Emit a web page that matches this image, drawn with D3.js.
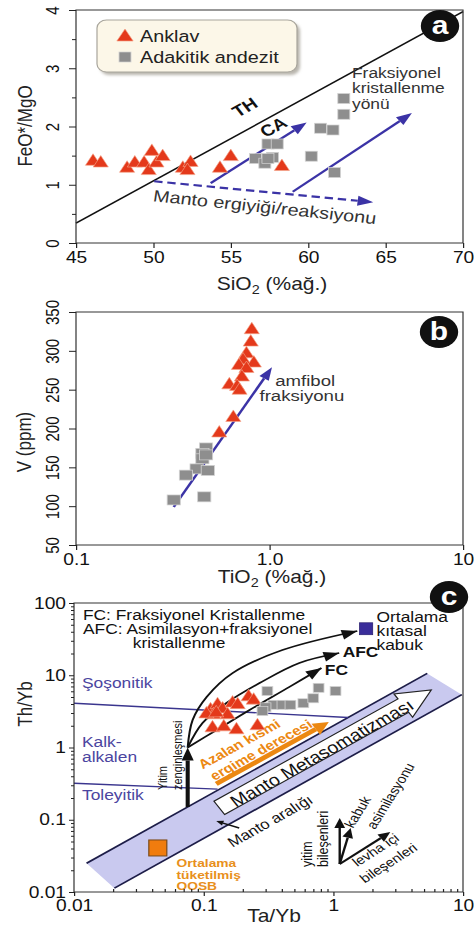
<!DOCTYPE html>
<html>
<head>
<meta charset="utf-8">
<script src="https://cdn.jsdelivr.net/npm/d3@7"></script>
<style>
  html, body { margin: 0; padding: 0; background: #fff; }
  svg { display: block; font-family: "Liberation Sans", Arial, Helvetica, sans-serif; }
</style>
</head>
<body>
<svg id="fig" width="474" height="927"></svg>
<script>
// ---------- Panel a: FeO*/MgO vs SiO2 ----------
const anklavSiO2   = [46.1, 46.6, 48.3, 48.8, 49.4, 49.9, 49.7, 50.2, 50.6, 51.9, 52.4, 52.2, 54.3, 55.0, 58.3];
const anklavFeOMgO = [1.40, 1.37, 1.28, 1.37, 1.37, 1.57, 1.24, 1.37, 1.48, 1.28, 1.38, 1.24, 1.28, 1.48, 1.31];
const adakitSiO2   = [56.6, 57.2, 57.7, 57.4, 58.0, 60.2, 60.8, 61.6, 61.7, 62.3, 62.3, 57.4];
const adakitFeOMgO = [1.45, 1.37, 1.47, 1.70, 1.70, 1.49, 1.97, 1.94, 1.21, 2.21, 2.48, 1.45];
const thCaSiO2     = [45, 70];
const thCaFeOMgO   = [0.34, 3.97];
const meltArrowA   = [[50.05, 1.06], [64.2, 0.70]];
const fcArrowsA    = [[[53.7, 1.03], [59.9, 2.07]], [[59.0, 0.88], [66.7, 2.23]]];
const aTicksX = [45, 50, 55, 60, 65, 70];
const aTicksY = [0, 1, 2, 3, 4];
const aMinorY = [0.5, 1.5, 2.5, 3.5];

// ---------- Panel b: V vs TiO2 ----------
const anklavTiO2 = [0.81, 0.80, 0.76, 0.73, 0.83, 0.695, 0.76, 0.72, 0.62, 0.68, 0.70, 0.65, 0.55];
const anklavV    = [327, 311, 296, 288, 284, 281, 277, 266, 256, 254, 249, 214, 194];
const adakitTiO2 = [0.47, 0.45, 0.45, 0.47, 0.42, 0.48, 0.37, 0.46, 0.32];
const adakitV    = [175, 168, 161, 166, 148, 146, 140, 112, 108];
const amphArrow  = [[0.32, 99], [1.03, 279]];
const bTicksX = [0.1, 1, 10];
const bTickLabelsX = ["0.1", "1.0", "10"];
const bTicksY = [50, 100, 150, 200, 250, 300, 350];

// ---------- Panel c: Th/Yb vs Ta/Yb ----------
const anklavTaYb = [0.113, 0.128, 0.140, 0.167, 0.183, 0.222, 0.243, 0.117, 0.143, 0.179, 0.26, 0.119, 0.153, 0.105, 0.125];
const anklavThYb = [3.3, 3.9, 3.4, 4.1, 3.9, 5.0, 4.5, 1.86, 1.92, 1.75, 1.99, 2.82, 2.82, 2.9, 3.0];
const adakitTaYb = [0.31, 0.345, 0.30, 0.405, 0.467, 0.587, 0.70, 0.77, 1.04, 0.284];
const adakitThYb = [6.05, 3.9, 3.6, 3.9, 3.9, 4.1, 4.8, 6.7, 6.05, 3.2];
const crustAvg   = [1.79, 44];
const nmorbAvg   = [0.0443, 0.0407];
const mantleUpper = [[0.0125, 0.025], [5.3, 10.6]];
const mantleLower = [[0.0205, 0.0113], [9.8, 5.39]];
const shoshoniteLine = [[0.01, 4.1], [1.3, 2.6]];
const tholeiiteLine  = [[0.01, 0.32], [0.128, 0.265]];
const subductionArrow = [[0.0753, 0.15], [0.0753, 1.0]];
const crustCurve = [[0.0753, 1.0], [0.0822, 2.4], [0.1054, 5.0], [0.167, 10.7], [0.405, 22.3], [1.53, 41]];
const afcCurve   = [[0.0753, 1.0], [0.098, 2.18], [0.150, 4.13], [0.27, 7.8], [0.547, 14.8], [1.11, 20.3]];
const fcCurve    = [[0.0753, 1.0], [0.126, 1.75], [0.226, 3.3], [0.459, 6.9], [0.81, 12.6]];
const meltingArrow = [[0.125, 0.313], [0.923, 2.25]];
const metasomArrow = [[0.132, 0.146], [5.69, 6.25]];
const arrayPointer = [[0.188, 0.0769], [0.125, 0.096]];
const vectorOrigin = [1.12, 0.0244];
const vectorTips   = [[1.12, 0.1057], [1.36, 0.0769], [2.75, 0.0676]];
const cTicksX = [0.01, 0.1, 1, 10];
const cTickLabelsX = ["0.01", "0.1", "1", "10"];
const cTicksY = [0.01, 0.1, 1, 10, 100];
const cTickLabelsY = ["0.01", "0.1", "1", "10", "100"];

// ---------- drawing setup ----------
// The figure is drawn in a horizontally stretched frame.
const S = 1.2;
const u = v => v / S;
const svg = d3.select("#fig");
const root = svg.append("g").attr("transform", `scale(${S},1)`);

const RED = "#e4391b", RED_EDGE = "#f4a488";
const GREY = "#8e8e8e", GREY_EDGE = "#d2d2d2";
const NAVY = "#3b33a6";
const ORANGE = "#ec8812";

const deg = r => r * 180 / Math.PI;
// convert an on-screen angle to the stretched drawing frame
const frameAngle = a => deg(Math.atan2(Math.sin(a * Math.PI / 180), Math.cos(a * Math.PI / 180) / S));

function triPath(h = 11.5, b = 6.3) {
  return `M0,${-h * 2 / 3}L${b},${h / 3}L${-b},${h / 3}Z`;
}
function drawTriangles(g, xs, ys, xScale, yScale) {
  g.append("g").selectAll("path").data(xs.map((x, i) => [x, ys[i]])).join("path")
    .attr("d", triPath())
    .attr("transform", d => `translate(${xScale(d[0])},${yScale(d[1])})`)
    .attr("fill", RED).attr("stroke", RED_EDGE).attr("stroke-width", 0.6);
}
function drawSquares(g, xs, ys, xScale, yScale, w, h) {
  g.append("g").selectAll("rect").data(xs.map((x, i) => [x, ys[i]])).join("rect")
    .attr("x", d => xScale(d[0]) - w / 2).attr("y", d => yScale(d[1]) - h / 2)
    .attr("width", w).attr("height", h)
    .attr("fill", GREY).attr("stroke", GREY_EDGE).attr("stroke-width", 0.7);
}
function headBase(x1, y1, x2, y2, len) {
  const a = Math.atan2(y2 - y1, x2 - x1);
  return [x2 - len * Math.cos(a), y2 - len * Math.sin(a), a];
}
function head(g, x1, y1, x2, y2, len, half, fill) {
  const [bx, by, a] = headBase(x1, y1, x2, y2, len);
  const px = -Math.sin(a) * half, py = Math.cos(a) * half;
  g.append("path").attr("d", `M${x2},${y2}L${bx + px},${by + py}L${bx - px},${by - py}Z`).attr("fill", fill);
}
function arrow(g, p1, p2, o) {
  const [bx, by] = headBase(p1[0], p1[1], p2[0], p2[1], o.len);
  const l = g.append("line")
    .attr("x1", p1[0]).attr("y1", p1[1]).attr("x2", bx).attr("y2", by)
    .attr("stroke", o.color).attr("stroke-width", o.width);
  if (o.dash) l.attr("stroke-dasharray", o.dash);
  head(g, p1[0], p1[1], p2[0], p2[1], o.len, o.half, o.color);
}
function label(g, x, y, str, o = {}) {
  const t = g.append("text").attr("x", x).attr("y", y).text(str)
    .attr("font-size", o.size || 15).attr("fill", o.fill || "#111");
  if (o.anchor) t.attr("text-anchor", o.anchor);
  if (o.weight) t.attr("font-weight", o.weight);
  if (o.rotate != null) t.attr("transform", `rotate(${o.rotate},${x},${y})`);
  if (o.dy) t.attr("dy", o.dy);
  return t;
}
function styleAxis(g, size) {
  g.attr("font-family", null).attr("font-size", size);
  g.select(".domain").remove();
  g.selectAll(".tick line").attr("stroke", "#222");
  g.selectAll("text").attr("fill", "#111");
}
function rotateYLabels(g, gap) {
  g.selectAll(".tick text")
    .attr("transform", "rotate(-90)").attr("x", 0).attr("y", -gap).attr("dy", 0)
    .attr("text-anchor", "middle");
}
function frame(P) {
  root.append("rect").attr("x", u(P.l)).attr("y", P.t)
    .attr("width", u(P.r) - u(P.l)).attr("height", P.b - P.t)
    .attr("fill", "none").attr("stroke", "#333").attr("stroke-width", 1);
}
function panelTag(cx, cy, letter) {
  root.append("circle").attr("cx", u(cx)).attr("cy", cy).attr("r", 16).attr("fill", "#111");
  label(root, u(cx), cy, letter, { size: 25, weight: "bold", fill: "#fff", anchor: "middle", dy: "0.34em" });
}
function xTitle(cx, y, main, sub, rest) {
  const t = root.append("text").attr("x", u(cx)).attr("y", y).attr("text-anchor", "middle")
    .attr("font-size", 17.5).attr("fill", "#222");
  t.append("tspan").text(main);
  if (sub) {
    t.append("tspan").attr("dy", 4).attr("font-size", 12).text(sub);
    t.append("tspan").attr("dy", -4).text(rest);
  }
}
function yTitle(x, cy, str) {
  label(root, u(x), cy, str, { size: 17, anchor: "middle", rotate: -90, fill: "#222" });
}

// =================== Panel a ===================
const A = { l: 76, r: 463, t: 10, b: 243 };
const xA = d3.scaleLinear().domain([45, 70]).range([u(A.l), u(A.r)]);
const yA = d3.scaleLinear().domain([0, 4]).range([A.b, A.t]);
const gA = root.append("g");

frame(A);
const axA = root.append("g").attr("transform", `translate(0,${A.b})`)
  .call(d3.axisBottom(xA).tickValues(aTicksX).tickSize(5).tickPadding(4).tickFormat(d3.format("d")));
styleAxis(axA, 16);
const ayA = root.append("g").attr("transform", `translate(${u(A.l)},0)`)
  .call(d3.axisLeft(yA).tickValues(aTicksY).tickSize(u(7)).tickFormat(d3.format("d")));
styleAxis(ayA, 15); rotateYLabels(ayA, u(17));
const ayA2 = root.append("g").attr("transform", `translate(${u(A.l)},0)`)
  .call(d3.axisLeft(yA).tickValues(aMinorY).tickSize(u(4)).tickFormat(""));
styleAxis(ayA2, 10);

// TH / CA boundary
gA.append("line")
  .attr("x1", xA(thCaSiO2[0])).attr("y1", yA(thCaFeOMgO[0]))
  .attr("x2", xA(thCaSiO2[1])).attr("y2", yA(thCaFeOMgO[1]))
  .attr("stroke", "#111").attr("stroke-width", 1.5);
const thAngle = deg(Math.atan2(yA(thCaFeOMgO[1]) - yA(thCaFeOMgO[0]), xA(thCaSiO2[1]) - xA(thCaSiO2[0])));
label(gA, xA(55.9), yA(2.33), "TH", { size: 16, weight: "bold", anchor: "middle", rotate: thAngle, dy: "0.35em" });
label(gA, xA(57.75), yA(1.99), "CA", { size: 16, weight: "bold", anchor: "middle", rotate: thAngle, dy: "0.35em" });

// trend arrows
const meltP = meltArrowA.map(d => [xA(d[0]), yA(d[1])]);
arrow(gA, meltP[0], meltP[1], { len: 13, half: 5, color: NAVY, width: 2.2, dash: "7,4" });
fcArrowsA.forEach(a => {
  const p = a.map(d => [xA(d[0]), yA(d[1])]);
  arrow(gA, p[0], p[1], { len: 13, half: 5, color: NAVY, width: 2.2 });
});
const meltAngle = deg(Math.atan2(meltP[1][1] - meltP[0][1], meltP[1][0] - meltP[0][0]));
label(gA, xA(57.2), yA(0.62), "Manto ergiyiği/reaksiyonu",
  { size: 16.5, anchor: "middle", rotate: meltAngle + 0.5, dy: "0.35em", fill: "#333" });
label(gA, xA(62.83), yA(2.84), "Fraksiyonel", { size: 14.5, fill: "#333" });
label(gA, xA(62.83), yA(2.57), "kristallenme", { size: 14.5, fill: "#333" });
label(gA, xA(62.83), yA(2.30), "yönü", { size: 14.5, fill: "#333" });

drawTriangles(gA, anklavSiO2, anklavFeOMgO, xA, yA);
drawSquares(gA, adakitSiO2, adakitFeOMgO, xA, yA, 10, 10);

// legend
const lg = root.append("g");
const defs = svg.append("defs");
defs.append("filter").attr("id", "soft").append("feGaussianBlur").attr("stdDeviation", 1.5);
lg.append("rect").attr("x", u(100)).attr("y", 23).attr("width", u(200)).attr("height", 52)
  .attr("rx", 8).attr("fill", "#b9b6ae").attr("filter", "url(#soft)");
lg.append("rect").attr("x", u(97)).attr("y", 20).attr("width", u(200)).attr("height", 52)
  .attr("rx", 8).attr("fill", "#fcf7e8").attr("stroke", "#a8a59c").attr("stroke-width", 1);
lg.append("path").attr("d", triPath(12, 6.8)).attr("transform", `translate(${u(125)},37)`)
  .attr("fill", RED).attr("stroke", RED_EDGE).attr("stroke-width", 0.6);
lg.append("rect").attr("x", u(125) - 5).attr("y", 52).attr("width", 10).attr("height", 10)
  .attr("fill", GREY).attr("stroke", GREY_EDGE).attr("stroke-width", 0.7);
label(lg, u(140), 42, "Anklav", { size: 16.5, fill: "#222" });
label(lg, u(140), 63, "Adakitik andezit", { size: 16.5, fill: "#222" });

panelTag(440, 26, "a");
yTitle(32, 126, "FeO*/MgO");
xTitle(272, 290, "SiO", "2", " (%ağ.)");

// =================== Panel b ===================
const B = { l: 76, r: 463, t: 312, b: 545 };
const xB = d3.scaleLog().domain([0.1, 10]).range([u(B.l), u(B.r)]);
const yB = d3.scaleLinear().domain([50, 350]).range([B.b, B.t]);
const gB = root.append("g");

frame(B);
const axB = root.append("g").attr("transform", `translate(0,${B.b})`)
  .call(d3.axisBottom(xB).tickValues(bTicksX).tickSize(5).tickPadding(4)
    .tickFormat((d, i) => bTickLabelsX[i]));
styleAxis(axB, 16);
const ayB = root.append("g").attr("transform", `translate(${u(B.l)},0)`)
  .call(d3.axisLeft(yB).tickValues(bTicksY).tickSize(u(7)).tickFormat(d3.format("d")));
styleAxis(ayB, 15); rotateYLabels(ayB, u(17));

const ampP = amphArrow.map(d => [xB(d[0]), yB(d[1])]);
arrow(gB, ampP[0], ampP[1], { len: 13, half: 4.5, color: NAVY, width: 2.2 });
drawSquares(gB, adakitTiO2, adakitV, xB, yB, 11, 10);
drawTriangles(gB, anklavTiO2, anklavV, xB, yB);
label(gB, xB(1.07), yB(255), "amfibol", { size: 15.5, fill: "#333" });
label(gB, xB(0.888), yB(235), "fraksiyonu", { size: 15.5, fill: "#333" });

panelTag(439, 332, "b");
yTitle(31, 442, "V (ppm)");
xTitle(272, 583, "TiO", "2", " (%ağ.)");

// =================== Panel c ===================
const C = { l: 74, r: 463, t: 603, b: 892 };
const xC = d3.scaleLog().domain([0.01, 10]).range([u(C.l), u(C.r)]);
const yC = d3.scaleLog().domain([0.01, 100]).range([C.b, C.t]);
const gC = root.append("g");
const pc = d => [xC(d[0]), yC(d[1])];

// mantle array band
gC.append("path")
  .attr("d", d3.line()([pc(mantleUpper[0]), pc(mantleUpper[1]), pc(mantleLower[1]), pc(mantleLower[0])]) + "Z")
  .attr("fill", "#c9c9ef");
[mantleUpper, mantleLower].forEach(l => {
  gC.append("line").attr("x1", pc(l[0])[0]).attr("y1", pc(l[0])[1])
    .attr("x2", pc(l[1])[0]).attr("y2", pc(l[1])[1])
    .attr("stroke", "#1d1d48").attr("stroke-width", 1.6);
});
// series boundaries
[shoshoniteLine, tholeiiteLine].forEach(l => {
  gC.append("line").attr("x1", pc(l[0])[0]).attr("y1", pc(l[0])[1])
    .attr("x2", pc(l[1])[0]).attr("y2", pc(l[1])[1])
    .attr("stroke", "#3a358e").attr("stroke-width", 1.4);
});

frame(C);
const minorC = [];
for (let e = -2; e < 2; e++) for (let k = 2; k <= 9; k++) minorC.push(k * Math.pow(10, e));
const axC = root.append("g").attr("transform", `translate(0,${C.b})`)
  .call(d3.axisBottom(xC).tickValues(cTicksX).tickSize(4).tickPadding(4)
    .tickFormat((d, i) => cTickLabelsX[i]));
styleAxis(axC, 16);
const axC2 = root.append("g").attr("transform", `translate(0,${C.b})`)
  .call(d3.axisBottom(xC).tickValues(minorC.filter(v => v < 10)).tickSize(-3).tickFormat(""));
styleAxis(axC2, 10);
const ayC = root.append("g").attr("transform", `translate(${u(C.l)},0)`)
  .call(d3.axisLeft(yC).tickValues(cTicksY).tickSize(u(5)).tickPadding(u(3))
    .tickFormat((d, i) => cTickLabelsY[i]));
styleAxis(ayC, 16);
const ayC2 = root.append("g").attr("transform", `translate(${u(C.l)},0)`)
  .call(d3.axisLeft(yC).tickValues(minorC).tickSize(u(3)).tickFormat(""));
styleAxis(ayC2, 10);

// series names
const SERIES = "#4b45a0";
label(gC, xC(0.01152), yC(6.66), "Şoşonitik", { size: 14.5, fill: SERIES });
label(gC, xC(0.01152), yC(1.016), "Kalk-", { size: 14.5, fill: SERIES });
label(gC, xC(0.01152), yC(0.63), "alkalen", { size: 14.5, fill: SERIES });
label(gC, xC(0.01152), yC(0.1877), "Toleyitik", { size: 14.5, fill: SERIES });

// legend text
label(gC, xC(0.01172), yC(58.2), "FC: Fraksiyonel Kristallenme", { size: 14.5 });
label(gC, xC(0.01172), yC(37.2), "AFC: Asimilasyon+fraksiyonel", { size: 14.5 });
label(gC, xC(0.02838), yC(23.8), "kristallenme", { size: 14.5 });

// decreasing partial melting arrow
const meltC = meltingArrow.map(pc);
arrow(gC, meltC[0], meltC[1], { len: 13, half: 6.5, color: ORANGE, width: 4.5 });
const meltCAng = deg(Math.atan2(meltC[1][1] - meltC[0][1], meltC[1][0] - meltC[0][0]));
label(gC, xC(0.188), yC(1.118), "Azalan kısmi", { size: 13, weight: "bold", fill: ORANGE, anchor: "middle", rotate: meltCAng, dy: "0.35em" });
label(gC, xC(0.2773), yC(0.9235), "ergime derecesi", { size: 13, weight: "bold", fill: ORANGE, anchor: "middle", rotate: meltCAng, dy: "0.35em" });

// mantle metasomatism arrow
{
  const p1 = pc(metasomArrow[0]), p2 = pc(metasomArrow[1]);
  const L = Math.hypot(p2[0] - p1[0], p2[1] - p1[1]);
  const dx = (p2[0] - p1[0]) / L, dy = (p2[1] - p1[1]) / L;
  const nx = -dy, ny = dx;
  const w = 8, hw = 14, hl = 28;
  const bx = p2[0] - dx * hl, by = p2[1] - dy * hl;
  const pts = [
    [p1[0] + nx * w, p1[1] + ny * w], [bx + nx * w, by + ny * w], [bx + nx * hw, by + ny * hw], p2,
    [bx - nx * hw, by - ny * hw], [bx - nx * w, by - ny * w], [p1[0] - nx * w, p1[1] - ny * w]
  ];
  gC.append("path").attr("d", d3.line()(pts) + "Z").attr("fill", "#fff").attr("stroke", "#222").attr("stroke-width", 1.1);
  label(gC, xC(0.815), yC(0.839), "Manto Metasomatizması",
    { size: 16.5, anchor: "middle", rotate: deg(Math.atan2(dy, dx)), dy: "0.36em" });
}

// mantle array label and pointer
const bandAng = deg(Math.atan2(pc(mantleUpper[1])[1] - pc(mantleUpper[0])[1], pc(mantleUpper[1])[0] - pc(mantleUpper[0])[0]));
label(gC, xC(0.325), yC(0.0962), "Manto aralığı", { size: 14, anchor: "middle", rotate: bandAng, dy: "0.35em" });
{
  const p = arrayPointer.map(pc);
  arrow(gC, p[0], p[1], { len: 6, half: 2.5, color: "#111", width: 1.4 });
}

// subduction enrichment arrow and its label
{
  const p = subductionArrow.map(pc);
  arrow(gC, p[0], p[1], { len: 13, half: 5, color: "#111", width: 3.4 });
}
label(gC, xC(0.0526), yC(0.258), "Yitim", { size: 11, rotate: -90 });
label(gC, xC(0.0675), yC(0.258), "zenginleşmesi", { size: 11, rotate: -90 });

// FC / AFC / crust curves
const curveGen = d3.line().curve(d3.curveCatmullRom.alpha(0.5));
[crustCurve, afcCurve, fcCurve].forEach(c => {
  const p = c.map(pc);
  gC.append("path").attr("d", curveGen(p)).attr("fill", "none").attr("stroke", "#111").attr("stroke-width", 1.7);
  const n = p.length;
  head(gC, p[n - 2][0] + (p[n - 1][0] - p[n - 2][0]) * 0.6, p[n - 2][1] + (p[n - 1][1] - p[n - 2][1]) * 0.6,
    p[n - 1][0], p[n - 1][1], 13, 5, "#111");
});
label(gC, xC(1.18), yC(17.9), "AFC", { size: 14.5, weight: "bold" });
label(gC, xC(0.86), yC(10.1), "FC", { size: 14.5, weight: "bold" });

// data
drawTriangles(gC, anklavTaYb, anklavThYb, xC, yC);
drawSquares(gC, adakitTaYb, adakitThYb, xC, yC, 9, 9);

// reference compositions
gC.append("rect").attr("x", xC(crustAvg[0]) - 5.5).attr("y", yC(crustAvg[1]) - 6)
  .attr("width", 11).attr("height", 12).attr("fill", "#3a2d9a").attr("stroke", "#241a6a").attr("stroke-width", 0.6);
label(gC, xC(2.153), yC(54.6), "Ortalama", { size: 14.5 });
label(gC, xC(2.153), yC(34.9), "kıtasal", { size: 14.5 });
label(gC, xC(2.153), yC(22.3), "kabuk", { size: 14.5 });

gC.append("rect").attr("x", xC(nmorbAvg[0]) - 7.5).attr("y", yC(nmorbAvg[1]) - 8)
  .attr("width", 15).attr("height", 16).attr("fill", "#f07c0e").attr("stroke", "#7a4a1a").attr("stroke-width", 1);
label(gC, xC(0.0617), yC(0.0222), "Ortalama", { size: 11.5, weight: "bold", fill: "#e8901c" });
label(gC, xC(0.0617), yC(0.01514), "tüketilmiş", { size: 11.5, weight: "bold", fill: "#e8901c" });
label(gC, xC(0.0617), yC(0.01065), "OOSB", { size: 11.5, weight: "bold", fill: "#e8901c" });

// component vectors
{
  const o = pc(vectorOrigin);
  vectorTips.forEach(t => arrow(gC, o, pc(t), { len: 10, half: 4.5, color: "#111", width: 2 }));
  const lv = pc(vectorTips[2]);
  const levAng = deg(Math.atan2(lv[1] - o[1], lv[0] - o[0]));
  label(gC, xC(0.6826), yC(0.0222), "yitim", { size: 12.5, rotate: -90 });
  label(gC, xC(0.906), yC(0.0222), "bileşenleri", { size: 12.5, rotate: -90 });
  label(gC, xC(1.538), yC(0.128), "kabuk", { size: 12.5, anchor: "middle", rotate: frameAngle(-58), dy: "0.35em" });
  label(gC, xC(2.757), yC(0.2134), "asimilasyonu", { size: 12.5, anchor: "middle", rotate: frameAngle(-58), dy: "0.35em" });
  label(gC, xC(2.116), yC(0.03814), "levha içi", { size: 12.5, anchor: "middle", rotate: levAng, dy: "0.35em" });
  label(gC, xC(2.662), yC(0.0252), "bileşenleri", { size: 12.5, anchor: "middle", rotate: levAng, dy: "0.35em" });
}

panelTag(449, 597, "c");
yTitle(32, 704, "Th/Yb");
xTitle(274, 922, "Ta/Yb");
</script>
</body>
</html>
